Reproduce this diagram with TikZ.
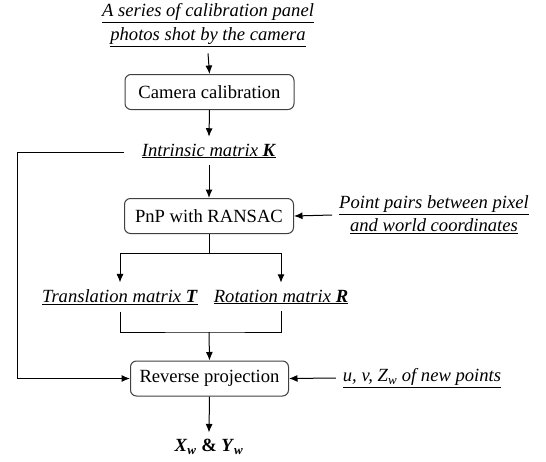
\documentclass[tikz,border=0pt]{standalone}
\usepackage{fontspec}
\setmainfont{Liberation Serif}
\usetikzlibrary{arrows.meta}
\begin{document}
\begin{tikzpicture}[x=1pt,y=-1pt,
  font=\fontsize{18.6}{22}\selectfont,
  line width=1pt,
  arr/.style={-{Latex[length=8.5pt,width=7pt]}},
  stepbox/.style={draw=black!75, rounded corners=6pt, minimum width=169pt, minimum height=35pt, inner sep=2pt},
  lab/.style={inner sep=2pt, outer sep=5pt, align=center}]
\useasboundingbox (0,0) rectangle (546,461);
\node[lab] (top) at (208,25) {\textit{\underline{A series of calibration panel}}\\[1.5pt]\textit{\underline{photos shot by the camera}}};
\node[stepbox] (cam) at (209.5,92) {Camera calibration};
\node[lab] (K) at (209,151) {\underline{\textit{Intrinsic matrix \textbf{K}}}};
\node[stepbox] (pnp) at (209,216) {PnP with RANSAC};
\node[lab] (pts) at (434,215) {\textit{\underline{Point pairs between pixel}}\\[1pt]\textit{\underline{and world coordinates}}};
\node[lab] (T) at (120,297) {\underline{\textit{Translation matrix \textbf{T}}}};
\node[lab] (R) at (281,297) {\underline{\textit{Rotation matrix \textbf{R}}}};
\node[stepbox, minimum width=158pt] (rev) at (209.5,378.5) {Reverse projection};
\node[lab] (uv) at (422,378) {\underline{\textit{u, v, Z\textsubscript{w} of new points}}};
\node[lab] (out) at (209,447) {\textbf{\textit{X}\textsubscript{\textit{w}} \& \textit{Y}\textsubscript{\textit{w}}}};
\coordinate (split) at (209,253);
\coordinate (merge) at (209,332);
\coordinate (kend) at (124,152);
\coordinate (lc) at (17,152);
\draw[arr] (top.south) -- (cam.north);
\draw[arr] (cam.south) -- (K.north);
\draw[arr] (K.south) -- (pnp.north);
\draw[arr] (pts.west) -- (pnp.east);
\draw (pnp.south) -- (split);
\draw[arr] (split) -| (T.north);
\draw[arr] (split) -| (R.north);
\draw (T.south) |- (merge) -| (R.south);
\draw[arr] (merge) -- (rev.north);
\draw[arr] (kend) -- (lc) |- (rev.west);
\draw[arr] (uv.west) -- (rev.east);
\draw[arr] (rev.south) -- (out.north);
\end{tikzpicture}
\end{document}
